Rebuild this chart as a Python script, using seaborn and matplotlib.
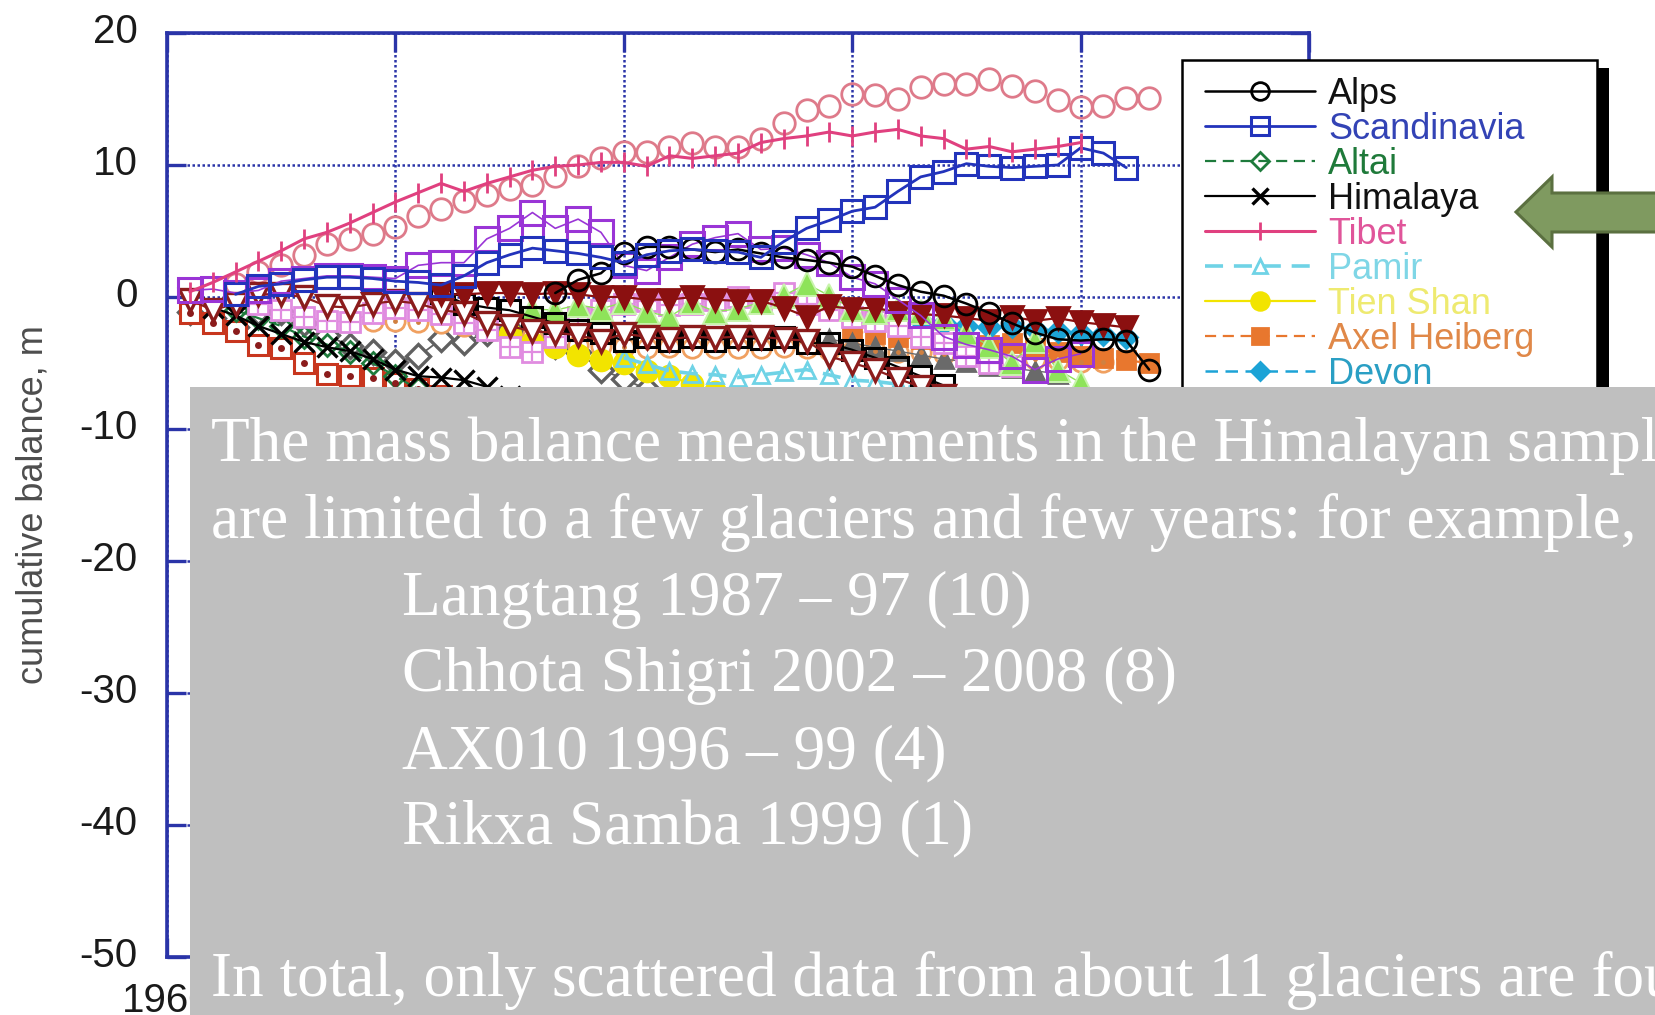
import matplotlib
matplotlib.use("Agg")
import matplotlib.pyplot as plt
import seaborn as sns
from matplotlib.patches import Rectangle, Polygon
from matplotlib.transforms import ScaledTranslation

W, H = 1655, 1015

# ---------------- data (cumulative balance, m) ----------------
alps_start = 1977
alps = [0.3, 1.3, 1.8, 3.3, 3.8, 3.8, 3.6, 3.4, 3.6, 3.3, 3.0, 2.8, 2.6, 2.3, 1.6, 0.9,
        0.4, 0.1, -0.5, -1.2, -2.0, -2.7, -3.2, -3.3, -3.2, -3.3, -5.5]
scand_start = 1963
scandinavia = [0.2, 0.8, 1.0, 1.3, 1.5, 1.5, 1.4, 1.2, 1.1, 0.9, 1.6, 2.6, 3.2, 3.7, 3.5, 3.3,
               3.0, 2.6, 3.2, 3.5, 3.6, 3.5, 3.4, 3.0, 4.2, 5.2, 5.8, 6.5, 6.8, 8.0, 9.1, 9.5,
               10.1, 9.9, 9.8, 9.9, 10.0, 11.3, 10.9, 9.8]
altai_start = 1963
altai = [-1.0, -1.6, -2.2, -3.0, -3.6, -4.2, -5.0, -6.0, -7.0, -7.8]
himalaya_start = 1962
himalaya = [-0.8, -1.4, -2.2, -2.8, -3.4, -3.8, -4.1, -4.7, -5.5, -6.0, -6.1, -6.3, -6.8,
            -7.5, -8.3, -9.0, -9.6, -10.4, -11.0]
tibet_start = 1961
tibet = [0.4, 1.1, 1.9, 2.7, 3.5, 4.4, 4.9, 5.6, 6.4, 7.2, 7.9, 8.6, 8.0, 8.6, 9.1, 9.6, 9.9,
         10.0, 10.2, 10.2, 9.9, 10.7, 10.5, 10.7, 10.9, 11.7, 12.0, 12.2, 12.5, 12.2, 12.5,
         12.7, 12.2, 12.0, 11.2, 11.4, 11.0, 11.2, 11.4, 11.7]
pamir_start = 1980
pamir = [-4.6, -5.1, -5.6, -5.8, -5.9, -6.1, -5.9, -5.7, -5.5, -5.9, -6.3, -6.4, -6.6, -7.0, -7.6]
tienshan_start = 1975
tien_shan = [-2.8, -3.5, -3.8, -4.4, -4.8, -5.0, -5.6, -6.0, -6.6, -7.2, -7.8, -8.5, -9.2,
             -10.0, -10.8, -11.6, -12.3, -13.0, -13.8, -14.5, -15.3]
axel_start = 1990
axel_heiberg = [-2.6, -2.8, -3.0, -3.2, -3.5, -3.8, -3.6, -3.5, -3.9, -4.2, -4.5, -4.6, -4.8, -5.0]
devon_start = 1993
devon = [-1.8, -2.0, -2.2, -2.3, -2.2, -2.4, -2.6, -2.7, -2.8, -3.0]
# further regions (their legend entries lie under the text panel)
pinkc_start = 1963
pink_circles = [1.0, 1.9, 2.4, 3.2, 4.0, 4.4, 4.8, 5.3, 6.1, 6.7, 7.3, 7.7, 8.2, 8.5, 9.2, 9.9,
                10.5, 11.0, 11.0, 11.4, 11.7, 11.4, 11.4, 12.0, 13.2, 14.2, 14.5, 15.4, 15.3,
                15.0, 15.9, 16.1, 16.1, 16.5, 16.0, 15.6, 14.9, 14.4, 14.5, 15.1, 15.1]
purple_start = 1961
purple_sq = [0.5, 0.6, 0.3, 0.5, 1.2, 1.4, 1.6, 1.6, 1.5, 1.4, 2.4, 2.6, 2.6, 4.4, 5.2, 6.4,
             5.2, 5.9, 4.9, 2.4, 2.0, 3.0, 4.0, 4.5, 4.8, 3.6, 3.7, 3.2, 2.6, 1.5, 1.0, -0.2,
             -1.4, -3.0, -3.6, -4.0, -4.5, -5.5, -4.7, -4.3]
orchid_start = 1964
orchid_sq = [-0.5, -1.0, -1.5, -1.8, -1.9, -1.2, -0.8, -1.0, -1.3, -2.0, -2.5, -3.8, -4.2,
             -3.0, -1.5, -1.0, -0.5, -0.3, -0.6, -0.5, -0.2, 0.0, -0.2, 0.3, -0.5, -1.0, -1.5,
             -1.8, -2.2, -3.0, -3.5, -4.5, -5.0, -5.2]
redtri_start = 1961
redtri_open = [-0.2, -1.0, -0.5, 0.2, 0.2, 0.0, -0.7, -0.8, -0.5, -0.3, -0.5, -1.0, -1.2, -2.0,
               -2.2, -2.6, -2.7, -2.9, -3.3, -2.8, -3.0, -3.2, -3.0, -3.1, -3.0, -3.0, -3.2,
               -3.3, -4.5, -5.0, -5.5, -6.2, -6.8, -7.5]
blacksq_start = 1972
black_sq = [0.3, -0.5, -0.8, -1.0, -1.5, -2.0, -2.5, -2.7, -3.3, -3.0, -3.3, -3.0, -3.3, -3.0,
            -3.2, -3.0, -3.5, -3.5, -4.0, -4.6, -5.3, -6.0, -6.7]
redfill_start = 1972
redtri_fill = [0.2, 0.2, 0.3, 0.3, 0.2, 0.3, 0.2, 0.0, 0.0, -0.2, -0.2, 0.0, -0.2, -0.3, -0.3,
               -0.8, -1.5, -0.7, -0.9, -0.8, -1.2, -1.3, -1.4, -1.6, -1.8, -1.5, -1.8, -1.6,
               -1.9, -2.1, -2.3]
green_start = 1976
green_tri = [-0.9, -1.0, -0.6, -0.9, -0.4, -1.1, -1.5, -0.4, -1.1, -0.9, -0.4, 0.1, 1.0, 0.1,
             -0.9, -1.1, -0.9, -1.1, -1.6, -2.7, -3.7, -5.0, -3.3, -5.5, -6.5]
greyd_start = 1961
grey_diam = [-1.1, -1.6, -2.3, -1.1, -1.1, -2.0, -2.9, -3.7, -4.2, -4.9, -4.5, -3.2, -3.4,
             -2.7, -2.4, -2.9, -3.7, -4.2, -5.5, -6.2, -7.0]
redsq_start = 1961
red_sq = [-1.2, -2.0, -2.6, -3.6, -3.9, -5.0, -5.8, -6.0, -6.1, -6.5, -7.0, -7.5]
orange_start = 1969
orange_circ = [-1.8, -1.8, -1.9, -2.0, -2.2, -2.5, -2.8, -3.0, -3.3, -3.6, -3.7, -3.8, -3.9,
               -3.8, -3.9, -3.9, -3.9, -3.9, -3.8, -3.9, -4.0, -4.1, -4.1, -4.2, -4.2, -4.3,
               -4.4, -4.5, -4.6, -4.7, -4.8, -4.9, -4.9]
greyt_start = 1989
grey_tri = [-3.2, -3.5, -3.8, -4.1, -4.4, -4.7, -4.9, -5.2, -5.4, -5.6, -5.8]

x_ticks = [1960, 1970, 1980, 1990, 2000, 2010]
x_tick_labels = ["1960", "", "", "", "", ""]
y_ticks = [-50, -40, -30, -20, -10, 0, 10, 20]

legend_labels = ["Alps", "Scandinavia", "Altai", "Himalaya", "Tibet", "Pamir",
                 "Tien Shan", "Axel Heiberg", "Devon"]
legend_text_colors = ["#111111", "#3343b5", "#1f7a3a", "#111111", "#e0559a", "#7fd6e6",
                      "#eeea70", "#e08848", "#2a9fc4"]

text_lines = [
    "The mass balance measurements in the Himalayan sample",
    "are limited to a few glaciers and few years: for example,",
    "Langtang 1987 \u2013 97 (10)",
    "Chhota Shigri 2002 \u2013 2008 (8)",
    "AX010 1996 \u2013 99 (4)",
    "Rikxa Samba 1999 (1)",
    "In total, only scattered data from about 11 glaciers are found.",
]

# ---------------- figure ----------------
sns.set_style("ticks")
plt.rcParams['font.family'] = ['Liberation Sans', 'DejaVu Sans']
plt.rcParams['axes.unicode_minus'] = False

fig = plt.figure(figsize=(W / 100, H / 100), dpi=100)
ax = fig.add_axes([167 / W, 1 - 957 / H, (1309 - 167) / W, (957 - 33) / H])


def yrs(start, vals):
    return list(range(start, start + len(vals)))


def draw(start, vals, color, marker, ms, face, edge, ls='-', lw=1.6, mew=2.0, z=2, label=None):
    sns.lineplot(x=yrs(start, vals), y=vals, ax=ax, color=color, marker=marker,
                 markersize=ms, markerfacecolor=face, markeredgecolor=edge,
                 markeredgewidth=mew, linestyle=ls, linewidth=lw, errorbar=None,
                 legend=False, label=label, zorder=z)
    return ax.lines[-1]


def dots(start, vals, color, ms=4, z=2):
    sns.lineplot(x=yrs(start, vals), y=vals, ax=ax, color=color, marker='o', markersize=ms,
                 markerfacecolor=color, markeredgecolor=color, markeredgewidth=0,
                 linestyle='none', errorbar=None, legend=False, zorder=z)


BLK = "#000000"
BLUE = "#2233bb"
PINK = "#e0407f"
DASH = (0, (5, 3))

draw(pinkc_start, pink_circles, "#de7a8a", 'o', 15.5, 'none', "#de7a8a", lw=0.0, mew=2.0, z=2)
draw(greyd_start, grey_diam, "#606060", 'D', 12.5, 'white', "#606060", lw=1.3, mew=2.4, z=2)
draw(redsq_start, red_sq, "#c8361e", 's', 14.5, 'white', "#c8361e", lw=1.3, mew=2.2, z=2)
dots(redsq_start, red_sq, "#8b1c1c", 5, z=2.1)
h_altai = draw(altai_start, altai, "#1e7b3c", 'D', 11, 'none', "#1e7b3c", ls=DASH, lw=1.6, z=2)
h_him = draw(himalaya_start, himalaya, BLK, 'x', 14, 'none', BLK, lw=1.6, mew=2.4, z=2.2)
draw(orange_start, orange_circ, "#f0a060", 'o', 14, 'white', "#f0a060", lw=0.0, mew=2.0, z=2)
dots(orange_start, orange_circ, "#d08040", 3.5, z=2.1)
h_tien = draw(tienshan_start, tien_shan, "#f2e400", 'o', 15, "#f2e400", "#f2e400", lw=1.6, z=2)
h_pamir = draw(pamir_start, pamir, "#6fd3e6", '^', 12, 'none', "#6fd3e6", ls=DASH, lw=2.6, z=2)
h_axel = draw(axel_start, axel_heiberg, "#e8772e", 's', 13, "#e8772e", "#e8772e", ls=DASH, lw=1.6, z=2)
h_devon = draw(devon_start, devon, "#1ca3d6", 'D', 11, "#1ca3d6", "#1ca3d6", ls=DASH, lw=1.8, z=2)
draw(greyt_start, grey_tri, "#6a6a6a", '^', 13, "#6a6a6a", "#6a6a6a", lw=1.0, z=2)
draw(orchid_start, orchid_sq, "#e08ce0", 's', 15, 'white', "#e08ce0", lw=1.0, mew=2.0, z=2.3)
draw(orchid_start, orchid_sq, "#e08ce0", '+', 13, "#e08ce0", "#e08ce0", ls='none', mew=1.6, z=2.31)
draw(green_start, green_tri, "#8ee35a", '^', 17, "#8ee35a", "#c9f4ad", lw=1.0, mew=1.4, z=2.4)
draw(blacksq_start, black_sq, BLK, 's', 15, 'none', BLK, lw=1.6, mew=2.2, z=2.5)
draw(redtri_start, redtri_open, "#8b1c1c", 'v', 16.5, 'white', "#8b1c1c", lw=1.6, mew=2.4, z=2.6)
draw(redfill_start, redtri_fill, "#8b1010", 'v', 16.5, "#8b1010", "#8b1010", lw=1.6, z=2.6)
draw(purple_start, purple_sq, "#9a35d6", 's', 17, 'none', "#9a35d6", lw=1.2, mew=2.2, z=2.7)
h_alps = draw(alps_start, alps, BLK, 'o', 15, 'none', BLK, lw=1.8, mew=2.0, z=2.8)
h_scan = draw(scand_start, scandinavia, BLUE, 's', 15.5, 'none', BLUE, lw=2.0, mew=2.2, z=2.9)
h_tibet = draw(tibet_start, tibet, PINK, '|', 15, PINK, PINK, lw=2.2, mew=2.0, z=3)

# ---------------- axes styling ----------------
SPINE = "#2a34a8"
ax.set_xlim(1960, 2010)
ax.set_ylim(-50, 20)
ax.set_xticks(x_ticks)
ax.set_xticklabels(x_tick_labels)
ax.set_yticks(y_ticks)
ax.set_xlabel("")
ax.set_ylabel("cumulative balance, m", fontsize=26, color="#4d4d4d")
ax.yaxis.set_label_coords(-0.102, 0.49)
for s in ax.spines.values():
    s.set_color(SPINE)
    s.set_linewidth(2.6)
ax.tick_params(direction='in', length=14, width=2.4, color=SPINE, labelsize=29,
               labelcolor="#1a1a1a", top=True, right=True)
ax.tick_params(axis='y', pad=21)
ax.tick_params(axis='x', pad=18)
ax.grid(True, linestyle=(0, (1, 1)), color=SPINE, linewidth=1.8)
for lab in ax.get_yticklabels():
    lab.set_transform(lab.get_transform() + ScaledTranslation(0, 0.05, fig.dpi_scale_trans))


def fx(x):
    return x / W


def fy(y):
    return 1 - y / H


# ---------------- legend ----------------
fig.add_artist(Rectangle((fx(1597), fy(400)), (1609 - 1597) / W, (400 - 68) / H,
                         transform=fig.transFigure, facecolor='black', edgecolor='none', zorder=3.8))
fig.add_artist(Rectangle((fx(1182), fy(400)), (1597 - 1182) / W, (400 - 60) / H,
                         transform=fig.transFigure, facecolor='white', edgecolor='black',
                         linewidth=1.8, zorder=3.9))
handles = [h_alps, h_scan, h_altai, h_him, h_tibet, h_pamir, h_tien, h_axel, h_devon]
leg = fig.legend(handles, legend_labels, loc='upper left',
                 bbox_to_anchor=(fx(1205), fy(77)), bbox_transform=fig.transFigure,
                 frameon=False, fontsize=26, handlelength=3.05, handletextpad=0.36,
                 labelspacing=0.0, borderpad=0, borderaxespad=0, markerscale=0.85)
leg.set_zorder(4)
for t, c in zip(leg.get_texts(), legend_text_colors):
    t.set_color(c)

# ---------------- arrow ----------------
arrow_px = [(1516, 212), (1552, 177), (1552, 193), (1665, 193), (1665, 232),
            (1552, 232), (1552, 247)]
fig.add_artist(Polygon([(fx(x), fy(y)) for x, y in arrow_px], closed=True,
                       transform=fig.transFigure, facecolor="#7f9a60",
                       edgecolor="#5b7040", linewidth=2.2, zorder=12))

# ---------------- text panel ----------------
fig.add_artist(Rectangle((fx(190), 0), 1 - fx(190), fy(387), transform=fig.transFigure,
                         facecolor="#bfbfbf", edgecolor='none', zorder=10))
xs = [211, 211, 402, 402, 402, 402, 211]
bases = [461, 538, 615, 691, 768, 844, 996]
for line, x, y in zip(text_lines, xs, bases):
    fig.text(fx(x), fy(y), line, color='white', fontsize=45.5,
             family=['Liberation Serif', 'DejaVu Serif'], va='baseline', ha='left', zorder=11)

fig.savefig("out.png", dpi=100)
